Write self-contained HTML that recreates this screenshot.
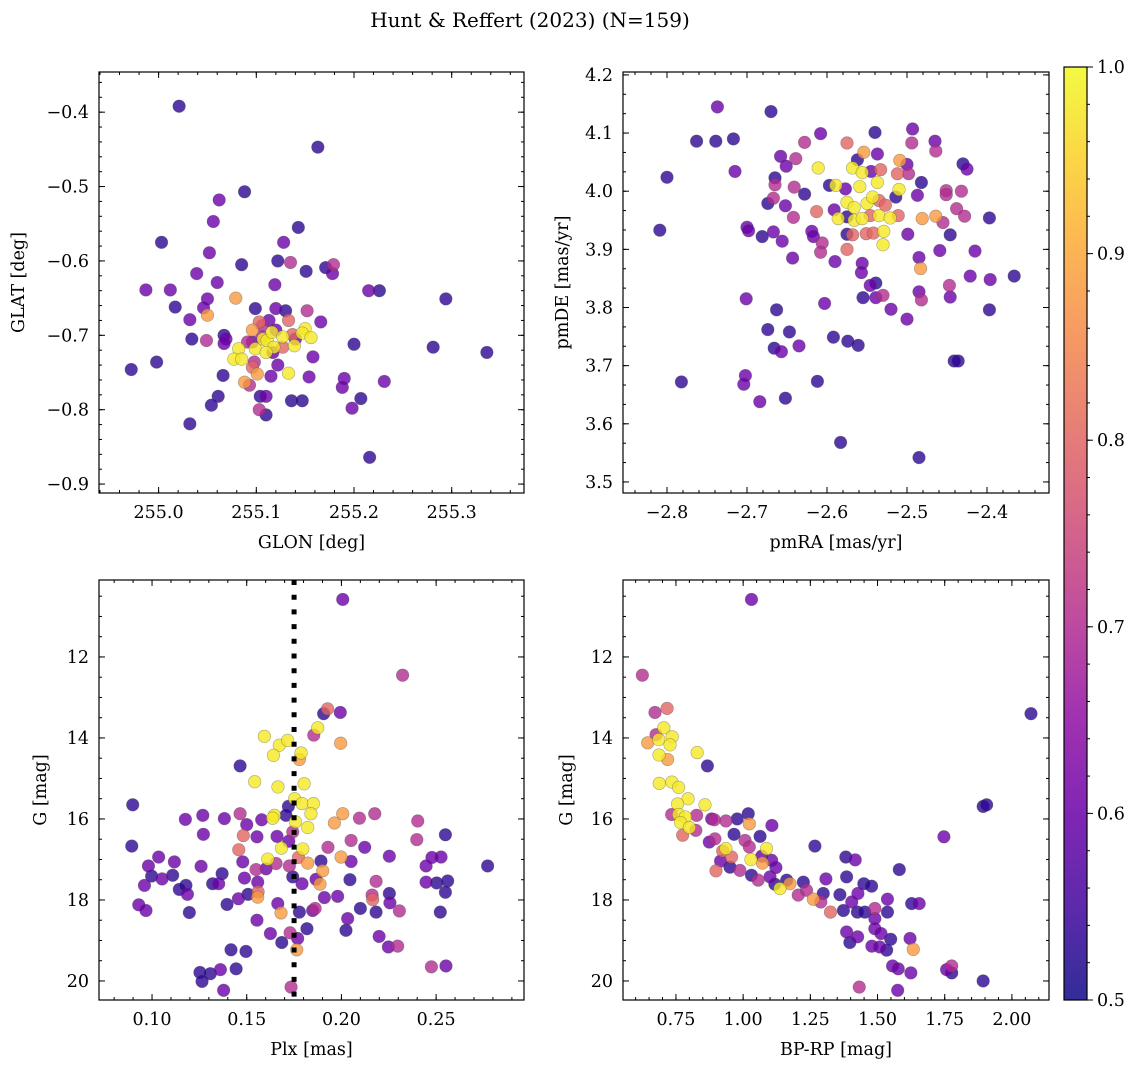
<!DOCTYPE html>
<html><head><meta charset="utf-8"><style>
html,body{margin:0;padding:0;background:#fff;}
svg text{font-family:"DejaVu Serif","Liberation Serif",serif;fill:#000;}
</style></head><body>
<svg id="fig" width="1136" height="1067" viewBox="0 0 1136 1067" xmlns="http://www.w3.org/2000/svg">
<defs>
<linearGradient id="plasma" x1="0" y1="1" x2="0" y2="0">
<stop offset="0" stop-color="#0d0887"/><stop offset="0.1" stop-color="#41049d"/><stop offset="0.2" stop-color="#6a00a8"/><stop offset="0.3" stop-color="#8f0da4"/><stop offset="0.4" stop-color="#b12a90"/><stop offset="0.5" stop-color="#cc4778"/><stop offset="0.6" stop-color="#e16462"/><stop offset="0.7" stop-color="#f2844b"/><stop offset="0.8" stop-color="#fca636"/><stop offset="0.9" stop-color="#fcce25"/><stop offset="1" stop-color="#f0f921"/>
</linearGradient>
</defs>
<text x="530" y="27" font-size="20" text-anchor="middle">Hunt &amp; Reffert (2023) (N=159)</text>
</svg>
<script>
// ---- Panel 1: GLON / GLAT ----
const p1_glon=[255.021,255.163,255.088,255.062,255.056,255.143,255.003,255.128,255.052,255.085,255.122,255.135,255.171,255.179,255.178,255.151,255.039,255.060,255.119,254.987,255.012,255.215,255.226,255.294,255.079,255.050,255.017,255.046,255.099,255.050,255.152,255.130,255.120,255.032,255.166,255.133,255.103,255.113,255.034,255.049,255.067,255.069,255.067,255.096,255.150,255.147,255.156,255.200,255.281,255.336,254.972,254.998,255.082,255.077,255.085,255.091,255.099,255.107,255.111,255.118,255.116,255.127,255.139,255.110,255.117,255.106,255.098,255.096,255.101,255.133,255.122,255.158,255.115,255.154,255.066,255.088,255.093,255.190,255.188,255.231,255.061,255.054,255.104,255.110,255.136,255.147,255.207,255.198,255.103,255.110,255.032,255.216,255.127,255.137,255.096,255.106,255.120,255.140];
const p1_glat=[-0.392,-0.447,-0.507,-0.518,-0.547,-0.555,-0.575,-0.575,-0.589,-0.605,-0.600,-0.602,-0.609,-0.605,-0.617,-0.614,-0.617,-0.629,-0.632,-0.639,-0.639,-0.640,-0.640,-0.651,-0.650,-0.651,-0.662,-0.663,-0.664,-0.673,-0.667,-0.667,-0.664,-0.679,-0.682,-0.680,-0.682,-0.680,-0.705,-0.707,-0.700,-0.705,-0.711,-0.693,-0.691,-0.697,-0.703,-0.712,-0.716,-0.723,-0.746,-0.736,-0.718,-0.732,-0.732,-0.709,-0.718,-0.705,-0.707,-0.716,-0.696,-0.702,-0.714,-0.723,-0.723,-0.687,-0.736,-0.743,-0.752,-0.751,-0.740,-0.729,-0.755,-0.756,-0.754,-0.763,-0.767,-0.758,-0.770,-0.762,-0.782,-0.794,-0.782,-0.782,-0.788,-0.788,-0.785,-0.798,-0.800,-0.807,-0.819,-0.864,-0.716,-0.699,-0.709,-0.702,-0.693,-0.705];
const p1_prob=[.53,.53,.53,.6,.6,.53,.53,.6,.6,.53, .53,.7,.53,.7,.6,.53,.6,.6,.6,.6, .6,.6,.53,.53,.88,.6,.53,.6,.53,.88, .7,.53,.6,.6,.6,.8,.8,.6,.53,.7, .53,.6,.6,.88,.98,.98,.98,.53,.53,.53, .53,.53,.98,.98,.98,.7,.98,.98,.98,.98, .98,.98,.98,.98,.6,.7,.7,.8,.88,.98, .6,.6,.6,.6,.53,.88,.7,.6,.6,.6, .53,.53,.53,.6,.53,.53,.53,.6,.7,.53,.53,.53, .8,.8,.6,.7,.6,.6];
const p1_xticks=[255.0,255.1,255.2,255.3];
const p1_yticks=[-0.9,-0.8,-0.7,-0.6,-0.5,-0.4];

// ---- Panel 2: pmRA / pmDE ----
const p2_pmra=[-2.737,-2.670,-2.763,-2.739,-2.717,-2.800,-2.715,-2.809,-2.608,-2.540,-2.493,-2.628,-2.658,-2.651,-2.639,-2.575,-2.554,-2.537,-2.562,-2.509,-2.500,-2.494,-2.465,-2.464,-2.430,-2.425,-2.611,-2.568,-2.556,-2.545,-2.533,-2.512,-2.498,-2.665,-2.665,-2.641,-2.628,-2.597,-2.589,-2.577,-2.559,-2.537,-2.482,-2.510,-2.514,-2.487,-2.451,-2.451,-2.432,-2.674,-2.667,-2.652,-2.642,-2.613,-2.591,-2.575,-2.566,-2.550,-2.543,-2.535,-2.527,-2.586,-2.575,-2.566,-2.556,-2.546,-2.535,-2.521,-2.511,-2.481,-2.464,-2.455,-2.438,-2.428,-2.397,-2.700,-2.698,-2.681,-2.667,-2.656,-2.619,-2.617,-2.606,-2.608,-2.575,-2.568,-2.551,-2.542,-2.529,-2.530,-2.499,-2.446,-2.575,-2.643,-2.590,-2.556,-2.557,-2.485,-2.483,-2.459,-2.415,-2.421,-2.396,-2.366,-2.546,-2.539,-2.555,-2.539,-2.530,-2.485,-2.482,-2.447,-2.446,-2.701,-2.603,-2.663,-2.520,-2.500,-2.397,-2.674,-2.647,-2.592,-2.574,-2.561,-2.635,-2.666,-2.657,-2.441,-2.436,-2.702,-2.704,-2.782,-2.612,-2.684,-2.652,-2.583,-2.485];
const p2_pmde=[4.145,4.137,4.086,4.086,4.090,4.024,4.034,3.933,4.099,4.101,4.107,4.084,4.060,4.043,4.056,4.083,4.067,4.064,4.054,4.053,4.046,4.083,4.086,4.069,4.047,4.038,4.040,4.040,4.032,4.034,4.037,4.030,4.030,4.023,4.011,4.007,3.995,4.010,4.010,4.004,4.008,4.015,4.015,4.003,3.990,3.993,4.001,3.994,4.000,3.979,3.988,3.975,3.955,3.965,3.968,3.981,3.972,3.979,3.990,3.984,3.976,3.953,3.956,3.950,3.953,3.958,3.958,3.954,3.958,3.953,3.957,3.946,3.970,3.957,3.954,3.938,3.932,3.922,3.930,3.914,3.931,3.922,3.911,3.895,3.926,3.925,3.927,3.928,3.931,3.908,3.926,3.925,3.900,3.885,3.879,3.876,3.860,3.886,3.867,3.898,3.897,3.854,3.848,3.854,3.838,3.842,3.817,3.817,3.821,3.827,3.813,3.838,3.818,3.815,3.807,3.796,3.797,3.780,3.796,3.762,3.758,3.749,3.742,3.735,3.734,3.730,3.724,3.708,3.708,3.683,3.668,3.672,3.673,3.638,3.644,3.568,3.542];
const p2_prob=[.6,.53,.53,.53,.53,.53,.6,.53,.6,.53, .6,.7,.6,.6,.7,.8,.88,.6,.53,.88, .6,.7,.6,.7,.53,.6,.98,.98,.98,.6, .8,.8,.7,.53,.7,.7,.53,.53,.98,.6, .98,.98,.53,.98,.53,.6,.7,.7,.7,.53, .7,.6,.7,.8,.6,.98,.98,.98,.98,.8, .8,.98,.53,.98,.98,.8,.98,.98,.8,.88, .88,.7,.7,.7,.53,.6,.6,.53,.6,.6, .6,.6,.7,.7,.53,.8,.8,.8,.98,.98, .6,.53,.8,.6,.6,.6,.6,.6,.88,.6, .6,.6,.6,.53,.6,.53,.53,.6,.7,.6, .7,.7,.6,.6,.6,.53,.6,.6,.53,.53, .53,.53,.53,.53,.6,.53,.6,.53,.53,.6, .6,.53,.53,.6,.53,.53,.53];
const p2_xticks=[-2.8,-2.7,-2.6,-2.5,-2.4];
const p2_yticks=[3.5,3.6,3.7,3.8,3.9,4.0,4.1,4.2];

// ---- Panel 3: Plx / G ----
const p3_plx=[0.2007,0.2323,0.1906,0.1927,0.1994,0.1875,0.1854,0.1996,0.1593,0.1672,0.1716,0.1641,0.1787,0.1778,0.1465,0.1542,0.1665,0.1803,0.0898,0.1753,0.1792,0.1852,0.1839,0.1720,0.1707,0.1646,0.1637,0.1579,0.1176,0.1268,0.1382,0.1465,0.1500,0.2007,0.1963,0.2095,0.2176,0.2403,0.1757,0.1822,0.1743,0.1271,0.1482,0.1554,0.1660,0.2549,0.0893,0.1458,0.1722,0.1683,0.1796,0.1929,0.2051,0.2123,0.2398,0.1035,0.1118,0.0981,0.1259,0.1479,0.1611,0.1655,0.1725,0.1773,0.1822,0.1892,0.1998,0.2051,0.2253,0.2478,0.2526,0.2447,0.2772,0.0998,0.1053,0.1109,0.0960,0.1144,0.1179,0.1187,0.1320,0.1352,0.1370,0.1488,0.1549,0.1558,0.1602,0.1743,0.1792,0.1901,0.1887,0.1866,0.2045,0.2183,0.2447,0.2503,0.2561,0.2549,0.1507,0.1558,0.1560,0.1456,0.0930,0.0968,0.1197,0.1396,0.1664,0.1681,0.1778,0.1848,0.1861,0.1910,0.1980,0.2162,0.2165,0.2100,0.2183,0.2253,0.2256,0.2306,0.2522,0.1554,0.2033,0.1818,0.2024,0.1625,0.1729,0.1769,0.1685,0.2199,0.2248,0.2297,0.1417,0.1496,0.1764,0.1444,0.1361,0.1308,0.1253,0.1264,0.1378,0.1734,0.2475,0.2552];
const p3_g=[10.58,12.45,13.40,13.28,13.37,13.75,13.93,14.13,13.96,14.18,14.06,14.43,14.37,14.53,14.69,15.08,15.21,15.13,15.65,15.50,15.62,15.62,15.87,15.69,15.91,15.91,15.98,16.02,16.01,15.91,15.99,15.87,16.14,15.87,16.10,15.98,15.87,16.05,16.07,16.21,16.32,16.38,16.41,16.44,16.43,16.39,16.67,16.76,16.55,16.72,16.74,16.70,16.53,16.70,16.51,16.94,17.06,17.16,17.17,17.06,16.99,17.10,17.16,16.95,17.09,17.04,16.94,17.05,16.92,16.95,16.94,17.16,17.16,17.41,17.48,17.39,17.64,17.74,17.64,17.86,17.60,17.60,17.35,17.46,17.25,17.56,17.23,17.43,17.60,17.28,17.61,17.49,17.50,17.54,17.56,17.58,17.53,17.81,17.86,17.93,17.80,17.97,18.12,18.26,18.31,18.11,18.09,18.32,18.30,18.26,18.21,17.94,17.91,17.88,17.99,18.21,18.30,17.84,18.07,18.27,18.30,18.50,18.46,18.71,18.75,18.83,18.81,18.95,19.05,18.90,19.16,19.14,19.23,19.27,19.23,19.70,19.72,19.82,19.79,20.01,20.23,20.15,19.65,19.63];
const p3_prob=[.6,.7,.53,.8,.6,.98,.7,.88,.98,.98, .98,.98,.98,.88,.53,.98,.98,.98,.53,.98, .98,.98,.98,.53,.53,.98,.98,.6,.6,.6, .6,.7,.6,.88,.88,.7,.7,.7,.98,.98, .7,.6,.8,.6,.6,.53,.53,.8,.6,.98, .98,.7,.7,.6,.7,.6,.6,.6,.6,.6, .98,.7,.7,.8,.88,.53,.88,.6,.6,.6, .6,.6,.53,.53,.6,.53,.6,.53,.53,.6, .53,.6,.53,.6,.7,.6,.6,.53,.6,.88, .88,.6,.53,.7,.6,.53,.53,.53,.53,.88, .8,.6,.6,.6,.53,.53,.6,.88,.53,.6, .7,.6,.6,.7,.8,.53,.53,.53,.6,.7, .53,.6,.6,.53,.53,.6,.7,.6,.53,.6, .6,.7,.53,.53,.88,.53,.6,.53,.53,.53, .6,.7,.7,.6];
const p3_xticks=[0.10,0.15,0.20,0.25];
const p3_yticks=[12,14,16,18,20];
const p3_plxRef=0.175;

// ---- Panel 4: BP-RP / G ----
const p4_bprp=[1.031,0.625,0.672,0.717,0.705,0.736,0.676,0.686,0.645,0.728,0.829,0.687,0.719,0.867,0.688,0.735,0.760,0.795,0.756,0.858,0.734,0.760,0.785,0.767,0.800,0.827,0.824,0.775,0.883,0.893,0.936,0.978,1.019,1.023,1.107,0.966,1.063,1.007,0.874,0.895,1.023,0.936,1.087,1.267,0.924,0.957,1.029,1.072,1.069,1.106,0.916,0.951,0.988,0.899,1.031,1.056,1.100,1.122,1.118,1.137,1.162,1.174,1.224,1.205,1.236,1.261,1.298,1.289,1.308,1.325,1.360,1.373,1.385,1.382,1.417,1.427,1.404,1.425,1.453,1.449,1.478,1.490,1.490,1.490,1.513,1.537,1.537,1.581,1.549,1.385,1.426,1.397,1.479,1.508,1.534,1.621,1.633,1.627,1.655,1.556,1.577,1.624,1.747,1.757,1.776,1.776,1.432,1.575,1.893,1.893,1.906,2.071];
const p4_g=[10.58,12.45,13.37,13.27,13.75,13.97,13.92,14.04,14.12,14.17,14.36,14.42,14.53,14.69,15.12,15.09,15.22,15.50,15.63,15.65,15.89,15.89,15.95,16.09,16.21,15.91,16.28,16.40,16.00,16.02,16.05,16.00,15.87,16.12,16.16,16.38,16.43,16.53,16.57,16.49,16.69,16.73,16.73,16.67,16.79,16.94,17.00,17.09,16.92,17.02,17.04,17.19,17.27,17.28,17.39,17.51,17.43,17.20,17.61,17.72,17.51,17.60,17.56,17.88,17.76,17.98,17.84,18.05,17.48,18.30,17.87,18.26,17.43,16.94,17.01,17.84,18.05,18.30,18.30,17.60,17.66,18.21,18.46,18.71,18.83,17.98,18.30,17.25,18.97,18.79,18.91,19.05,19.14,19.16,19.24,18.95,19.22,18.09,18.09,19.63,19.70,19.80,16.44,19.72,19.80,19.63,20.15,20.23,20.00,15.69,15.65,13.40];
const p4_prob=[.6,.7,.7,.8,.98,.98,.7,.98,.88,.98, .98,.98,.88,.53,.98,.98,.98,.98,.98,.98, .7,.98,.98,.98,.98,.7,.7,.8,.6,.7, .7,.53,.53,.88,.6,.53,.53,.7,.6,.7, .7,.98,.98,.53,.8,.8,.98,.88,.6,.6, .6,.53,.7,.8,.53,.7,.6,.6,.53,.98, .53,.88,.53,.7,.7,.88,.53,.7,.6,.8, .53,.53,.53,.53,.6,.6,.6,.53,.53,.53, .53,.7,.6,.6,.6,.6,.53,.53,.53,.6, .6,.53,.6,.6,.53,.6,.88,.53,.6,.6, .6,.6,.6,.6,.53,.7,.7,.6,.53,.53, .53,.53];
const p4_xticks=[0.75,1.00,1.25,1.50,1.75,2.00];
const p4_yticks=[12,14,16,18,20];

// ---- Colorbar ----
const cb_ticks=[0.5,0.6,0.7,0.8,0.9,1.0];
const cb_min=0.5, cb_max=1.0;

const NS='http://www.w3.org/2000/svg';
const svg=document.getElementById('fig');
const stops=['#0d0887','#41049d','#6a00a8','#8f0da4','#b12a90','#cc4778','#e16462','#f2844b','#fca636','#fcce25','#f0f921'];
function plasma(t){
  t=Math.max(0,Math.min(1,t));const s=t*10;const i=Math.min(9,Math.floor(s));const f=s-i;
  const a=stops[i],b=stops[i+1];const c=k=>Math.round(parseInt(a.substr(k,2),16)*(1-f)+parseInt(b.substr(k,2),16)*f);
  return 'rgb('+c(1)+','+c(3)+','+c(5)+')';
}
function mk(tag,attrs,parent){const e=document.createElementNS(NS,tag);for(const k in attrs)e.setAttribute(k,attrs[k]);(parent||svg).appendChild(e);return e;}
function fmt(v,d){const s=Math.abs(v).toFixed(d);return (v<0?'\u2212':'')+s;}

function panel(o){
  const g=mk('g',{});
  
  
  const sx=v=>o.x0+(v-o.xmin)/(o.xmax-o.xmin)*(o.x1-o.x0);
  const sy=o.invert? (v=>o.y0+(v-o.ymin)/(o.ymax-o.ymin)*(o.y1-o.y0)) : (v=>o.y1-(v-o.ymin)/(o.ymax-o.ymin)*(o.y1-o.y0));
  const idx=o.xs.map((_,i)=>i).sort((a,b)=>o.ps[a]-o.ps[b]);
  const pg=mk('g',{},g);
  
  
  for(const i of idx){
    const c=mk('circle',{cx:sx(o.xs[i]),cy:sy(o.ys[i]),r:6.3,fill:plasma((o.ps[i]-cb_min)/(cb_max-cb_min)),'fill-opacity':0.8,stroke:'rgba(70,70,70,0.45)','stroke-width':0.6},pg);
    
    
  }
  if(o.vline!==undefined){
    const l=mk('line',{x1:sx(o.vline),x2:sx(o.vline),y1:o.y0,y2:o.y1,stroke:'#000','stroke-width':5,'stroke-dasharray':'5,9.7'},g);
    
    
  }
  const fr=mk('rect',{x:o.x0,y:o.y0,width:o.x1-o.x0,height:o.y1-o.y0,fill:'none',stroke:'#000','stroke-width':1.2},g);
  
  
  const tk=mk('g',{stroke:'#000','stroke-width':1},g);
  
  
  for(let v=Math.ceil(o.xmin/o.xminor-1e-6)*o.xminor; v<=o.xmax; v+=o.xminor){const X=sx(v);mk('line',{x1:X,x2:X,y1:o.y1,y2:o.y1-3},tk);mk('line',{x1:X,x2:X,y1:o.y0,y2:o.y0+3},tk);}
  for(let v=Math.ceil(o.ymin/o.yminor-1e-6)*o.yminor; v<=o.ymax; v+=o.yminor){const Y=sy(v);mk('line',{x1:o.x0,x2:o.x0+3,y1:Y,y2:Y},tk);mk('line',{x1:o.x1,x2:o.x1-3,y1:Y,y2:Y},tk);}
  for(const v of o.xticks){const X=sx(v);mk('line',{x1:X,x2:X,y1:o.y1,y2:o.y1-6},tk);mk('line',{x1:X,x2:X,y1:o.y0,y2:o.y0+6},tk);
    const t=mk('text',{x:X,y:o.y1+25,'font-size':17.5,'text-anchor':'middle'},g);t.textContent=fmt(v,o.xd);
    
    }
  for(const v of o.yticks){const Y=sy(v);mk('line',{x1:o.x0,x2:o.x0+6,y1:Y,y2:Y},tk);mk('line',{x1:o.x1,x2:o.x1-6,y1:Y,y2:Y},tk);
    const t=mk('text',{x:o.x0-10,y:Y+6,'font-size':17.5,'text-anchor':'end'},g);t.textContent=fmt(v,o.yd);
    
    }
  const xl=mk('text',{x:(o.x0+o.x1)/2,y:o.y1+55,'font-size':17.5,'text-anchor':'middle'},g);xl.textContent=o.xlabel;
  
  
  const yl=mk('text',{x:0,y:0,'font-size':17.5,'text-anchor':'middle',transform:'translate('+o.ylx+','+((o.y0+o.y1)/2)+') rotate(-90)'},g);yl.textContent=o.ylabel;
  
  
}

panel({name:'panel-glon-glat',x0:99,x1:524,y0:72,y1:493,xmin:254.939,xmax:255.374,ymin:-0.912,ymax:-0.346,xs:p1_glon,ys:p1_glat,ps:p1_prob,xticks:p1_xticks,yticks:p1_yticks,xminor:0.02,yminor:0.02,xd:1,yd:1,xlabel:'GLON [deg]',ylabel:'GLAT [deg]',ylx:24});
panel({name:'panel-pmra-pmde',x0:623,x1:1049,y0:72,y1:493,xmin:-2.855,xmax:-2.3225,ymin:3.481,ymax:4.205,xs:p2_pmra,ys:p2_pmde,ps:p2_prob,xticks:p2_xticks,yticks:p2_yticks,xminor:0.02,yminor:0.0333333,xd:1,yd:1,xlabel:'pmRA [mas/yr]',ylabel:'pmDE [mas/yr]',ylx:568});
panel({name:'panel-plx-g',x0:99,x1:524,y0:580,y1:1000,xmin:0.072,xmax:0.2964,ymin:10.10,ymax:20.47,invert:true,xs:p3_plx,ys:p3_g,ps:p3_prob,xticks:p3_xticks,yticks:p3_yticks,xminor:0.01,yminor:0.5,xd:2,yd:0,xlabel:'Plx [mas]',ylabel:'G [mag]',ylx:46,vline:p3_plxRef});
panel({name:'panel-bprp-g',x0:623,x1:1049,y0:580,y1:1000,xmin:0.553,xmax:2.138,ymin:10.10,ymax:20.47,invert:true,xs:p4_bprp,ys:p4_g,ps:p4_prob,xticks:p4_xticks,yticks:p4_yticks,xminor:0.05,yminor:0.5,xd:2,yd:0,xlabel:'BP-RP [mag]',ylabel:'G [mag]',ylx:572});

(function(){
  const x0=1064,x1=1087,y0=67,y1=1000;
  const g=mk('g',{});
  
  
  mk('rect',{x:x0,y:y0,width:x1-x0,height:y1-y0,fill:'url(#plasma)','fill-opacity':0.85},g);
  mk('rect',{x:x0,y:y0,width:x1-x0,height:y1-y0,fill:'none',stroke:'#000','stroke-width':1.2},g);
  const sy=v=>y1-(v-cb_min)/(cb_max-cb_min)*(y1-y0);
  for(let v=cb_min;v<=cb_max+1e-9;v+=0.02){const Y=sy(v);mk('line',{x1:x1,x2:x1+3,y1:Y,y2:Y,stroke:'#000','stroke-width':1},g);}
  for(const v of cb_ticks){const Y=sy(v);mk('line',{x1:x1,x2:x1+6,y1:Y,y2:Y,stroke:'#000','stroke-width':1},g);
    const t=mk('text',{x:x1+10,y:Y+6,'font-size':17.5},g);t.textContent=v.toFixed(1);
    
    }
})();
</script>
</body></html>
